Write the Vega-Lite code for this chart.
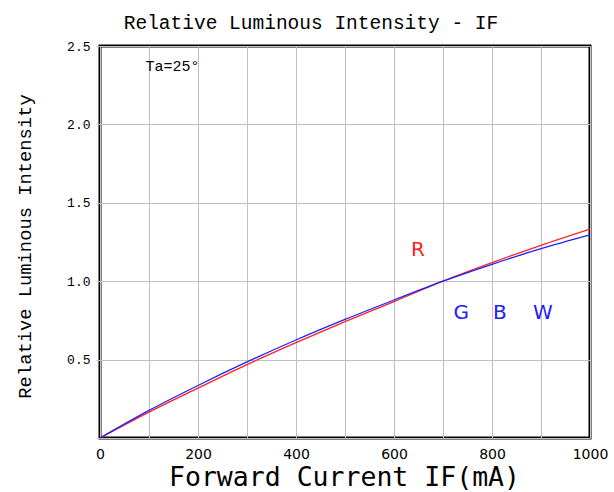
{
  "$schema": "https://vega.github.io/schema/vega-lite/v6.json",
  "autosize": {"type": "none"},
  "padding": {"left": 100, "top": 46, "right": 24, "bottom": 54},
  "width": 490,
  "height": 392,
  "background": "white",
  "title": {
    "text": "Relative Luminous Intensity - IF",
    "font": "Liberation Mono",
    "fontSize": 19.5,
    "fontWeight": "normal",
    "color": "#000000",
    "anchor": "middle",
    "dx": -34,
    "offset": 7
  },
  "config": {
    "view": {"stroke": "#000000", "strokeWidth": 3},
    "axis": {"domain": false, "gridColor": "#c0c0c0", "gridWidth": 1, "gridOpacity": 1}
  },
  "datasets": {
    "curves": [
      {"current": 0, "intensity": 0, "series": "R"},
      {"current": 100, "intensity": 0.165, "series": "R"},
      {"current": 200, "intensity": 0.318, "series": "R"},
      {"current": 300, "intensity": 0.468, "series": "R"},
      {"current": 400, "intensity": 0.608, "series": "R"},
      {"current": 500, "intensity": 0.742, "series": "R"},
      {"current": 600, "intensity": 0.870, "series": "R"},
      {"current": 700, "intensity": 1.0, "series": "R"},
      {"current": 800, "intensity": 1.118, "series": "R"},
      {"current": 900, "intensity": 1.229, "series": "R"},
      {"current": 1000, "intensity": 1.333, "series": "R"},
      {"current": 0, "intensity": 0, "series": "GBW"},
      {"current": 100, "intensity": 0.176, "series": "GBW"},
      {"current": 200, "intensity": 0.335, "series": "GBW"},
      {"current": 300, "intensity": 0.485, "series": "GBW"},
      {"current": 400, "intensity": 0.625, "series": "GBW"},
      {"current": 500, "intensity": 0.756, "series": "GBW"},
      {"current": 600, "intensity": 0.880, "series": "GBW"},
      {"current": 700, "intensity": 1.0, "series": "GBW"},
      {"current": 800, "intensity": 1.108, "series": "GBW"},
      {"current": 900, "intensity": 1.207, "series": "GBW"},
      {"current": 1000, "intensity": 1.295, "series": "GBW"}
    ],
    "labels": [
      {"label": "R", "current": 649, "intensity": 1.2, "series": "R"},
      {"label": "G", "current": 737, "intensity": 0.8, "series": "GBW"},
      {"label": "B", "current": 816, "intensity": 0.8, "series": "GBW"},
      {"label": "W", "current": 904, "intensity": 0.8, "series": "GBW"}
    ],
    "note": [
      {"label": "Ta=25°", "current": 148, "intensity": 2.37}
    ]
  },
  "layer": [
    {
      "data": {"name": "curves"},
      "mark": {"type": "line", "strokeWidth": 1.3, "clip": true, "interpolate": "monotone"},
      "encoding": {
        "x": {
          "field": "current", "type": "quantitative",
          "scale": {"domain": [0, 1000], "nice": false},
          "axis": {
            "values": [0, 100, 200, 300, 400, 500, 600, 700, 800, 900, 1000],
            "format": "d",
            "labelExpr": "datum.value % 200 == 0 ? datum.label : ''",
            "ticks": false,
            "labelPadding": 9,
            "labelFont": "DejaVu Sans",
            "labelFontSize": 14,
            "labelColor": "#000000",
            "labelFlush": false,
            "title": "Forward Current IF(mA)",
            "titleFont": "DejaVu Sans Mono",
            "titleFontSize": 26.5,
            "titleFontWeight": "normal",
            "titleColor": "#000000",
            "titlePadding": 3,
            "titleX": 244
          }
        },
        "y": {
          "field": "intensity", "type": "quantitative",
          "scale": {"domain": [0, 2.5], "nice": false},
          "axis": {
            "values": [0, 0.25, 0.5, 0.75, 1, 1.25, 1.5, 1.75, 2, 2.25, 2.5],
            "labelExpr": "(datum.value * 2) % 1 == 0 && datum.value > 0 ? format(datum.value, '.1f') : ''",
            "tickColor": "#c0c0c0",
            "tickSize": 4,
            "labelPadding": 6,
            "labelFont": "Liberation Mono",
            "labelFontSize": 13,
            "labelColor": "#000000",
            "title": "Relative Luminous Intensity",
            "titleFont": "Liberation Mono",
            "titleFontSize": 18.8,
            "titleFontWeight": "normal",
            "titleColor": "#000000",
            "titlePadding": 32,
            "titleY": 200
          }
        },
        "color": {
          "field": "series", "type": "nominal",
          "scale": {"domain": ["R", "GBW"], "range": ["#ff2020", "#2020ff"]},
          "legend": null
        }
      }
    },
    {
      "data": {"name": "labels"},
      "mark": {"type": "text", "font": "DejaVu Sans", "fontSize": 20, "fontWeight": "normal"},
      "encoding": {
        "x": {"field": "current", "type": "quantitative"},
        "y": {"field": "intensity", "type": "quantitative"},
        "text": {"field": "label"},
        "color": {"field": "series", "type": "nominal", "legend": null}
      }
    },
    {
      "data": {"name": "note"},
      "mark": {"type": "text", "font": "Liberation Mono", "fontSize": 15, "color": "#000000"},
      "encoding": {
        "x": {"field": "current", "type": "quantitative"},
        "y": {"field": "intensity", "type": "quantitative"},
        "text": {"field": "label"}
      }
    }
  ]
}
